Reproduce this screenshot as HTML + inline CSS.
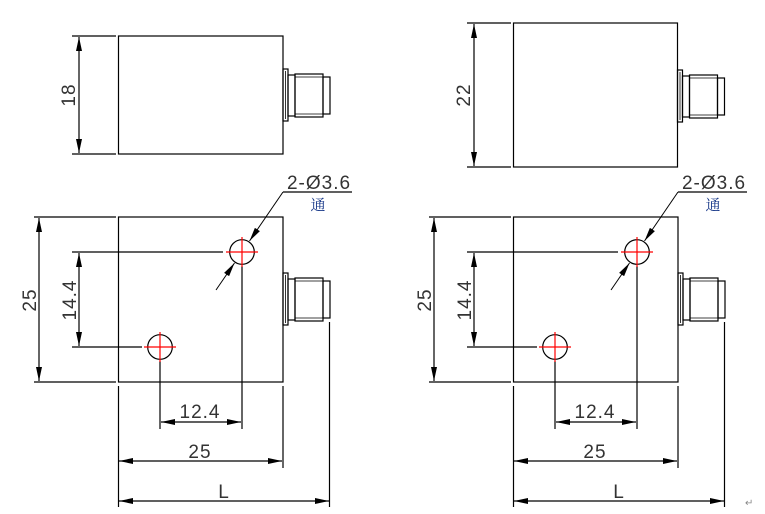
<!DOCTYPE html>
<html><head><meta charset="utf-8"><style>
html,body{margin:0;padding:0;background:#fff;width:765px;height:514px;overflow:hidden}
svg{display:block}
text{font-family:"Liberation Sans","DejaVu Sans",sans-serif;fill:#333}
</style></head><body>
<svg width="765" height="514" viewBox="0 0 765 514" xmlns="http://www.w3.org/2000/svg">
<defs>
<marker id="a" viewBox="0 0 14 6" refX="14" refY="3" markerWidth="14" markerHeight="6" markerUnits="userSpaceOnUse" orient="auto-start-reverse"><path d="M0,0 L14,3 L0,6 Z" fill="#000"/></marker>
<g id="conn" fill="none" stroke="#000" stroke-width="1.2">
<rect x="0" y="0" width="5" height="52"/>
<line x1="2.5" y1="2" x2="2.5" y2="50" stroke-width="0.8"/>
<rect x="5" y="6" width="7" height="41"/>
<rect x="12" y="5" width="28" height="43"/>
<line x1="12" y1="8" x2="40" y2="8" stroke-width="0.8"/>
<line x1="12" y1="45" x2="40" y2="45" stroke-width="0.8"/>
<rect x="40" y="8" width="7" height="37"/>
</g>
<g id="plan" stroke="#000" fill="none" stroke-width="1.2">
<rect x="118.5" y="217" width="164.5" height="165"/>
<use href="#conn" x="283" y="273"/>
<line x1="34" y1="217" x2="116" y2="217"/>
<line x1="34" y1="382" x2="116" y2="382"/>
<line x1="39" y1="218" x2="39" y2="381" marker-start="url(#a)" marker-end="url(#a)"/>
<line x1="72" y1="252" x2="223" y2="252"/>
<line x1="72" y1="347" x2="142" y2="347"/>
<line x1="79" y1="253" x2="79" y2="346" marker-start="url(#a)" marker-end="url(#a)"/>
<circle cx="242" cy="252" r="12.3"/>
<circle cx="160" cy="347" r="12.3"/>
<line x1="242" y1="266" x2="242" y2="429"/>
<line x1="160" y1="361" x2="160" y2="429"/>
<line x1="161" y1="422" x2="241" y2="422" marker-start="url(#a)" marker-end="url(#a)"/>
<line x1="118.5" y1="386" x2="118.5" y2="507"/>
<line x1="283" y1="386" x2="283" y2="468"/>
<line x1="119" y1="461" x2="282" y2="461" marker-start="url(#a)" marker-end="url(#a)"/>
<line x1="329.5" y1="322" x2="329.5" y2="507"/>
<line x1="119" y1="501" x2="329" y2="501" marker-start="url(#a)" marker-end="url(#a)"/>
<line x1="283" y1="192" x2="352" y2="192"/>
<line x1="283" y1="192" x2="249.5" y2="241" stroke-width="1" marker-end="url(#a)"/>
<line x1="216" y1="290" x2="234.5" y2="263" stroke-width="1" marker-end="url(#a)"/>
<g stroke="#f00" stroke-width="1.2">
<line x1="226" y1="252" x2="258" y2="252"/><line x1="242" y1="237" x2="242" y2="267"/>
<line x1="144" y1="347" x2="176" y2="347"/><line x1="160" y1="332" x2="160" y2="362"/>
</g>
</g>
</defs>

<g stroke="#000" fill="none" stroke-width="1.2">
<rect x="118.5" y="36" width="164.5" height="118"/>
<use href="#conn" x="283" y="69"/>
<line x1="72" y1="36" x2="116" y2="36"/>
<line x1="72" y1="154" x2="116" y2="154"/>
<line x1="79" y1="37" x2="79" y2="153" marker-start="url(#a)" marker-end="url(#a)"/>
</g>
<text transform="translate(75,95) rotate(-90)" font-size="19" letter-spacing="1" text-anchor="middle">18</text>

<g stroke="#000" fill="none" stroke-width="1.2">
<rect x="513.5" y="23" width="164" height="144"/>
<use href="#conn" x="677.5" y="70"/>
<line x1="467" y1="23" x2="511" y2="23"/>
<line x1="467" y1="167" x2="511" y2="167"/>
<line x1="474" y1="24" x2="474" y2="166" marker-start="url(#a)" marker-end="url(#a)"/>
</g>
<text transform="translate(470,95) rotate(-90)" font-size="19" letter-spacing="1" text-anchor="middle">22</text>

<use href="#plan"/>
<use href="#plan" x="395"/>

<g font-size="19" letter-spacing="1">
<text transform="translate(36,300) rotate(-90)" text-anchor="middle">25</text>
<text transform="translate(76,300) rotate(-90)" text-anchor="middle">14.4</text>
<text x="200" y="418" text-anchor="middle">12.4</text>
<text x="200" y="458" text-anchor="middle">25</text>
<text x="224" y="498" text-anchor="middle">L</text>
<text x="319" y="189" text-anchor="middle">2-Ø3.6</text>

<text transform="translate(431,300) rotate(-90)" text-anchor="middle">25</text>
<text transform="translate(471,300) rotate(-90)" text-anchor="middle">14.4</text>
<text x="595" y="418" text-anchor="middle">12.4</text>
<text x="595" y="458" text-anchor="middle">25</text>
<text x="619" y="498" text-anchor="middle">L</text>
<text x="714" y="189" text-anchor="middle">2-Ø3.6</text>
</g>
<text x="318" y="210" font-size="15" text-anchor="middle" style="fill:#1a3a8a;font-family:'Noto Serif CJK SC','Noto Sans CJK SC',serif">通</text>
<text x="713" y="210" font-size="15" text-anchor="middle" style="fill:#1a3a8a;font-family:'Noto Serif CJK SC','Noto Sans CJK SC',serif">通</text>
<text x="745" y="506" font-size="10" style="fill:#888">↵</text>
</svg>
</body></html>
